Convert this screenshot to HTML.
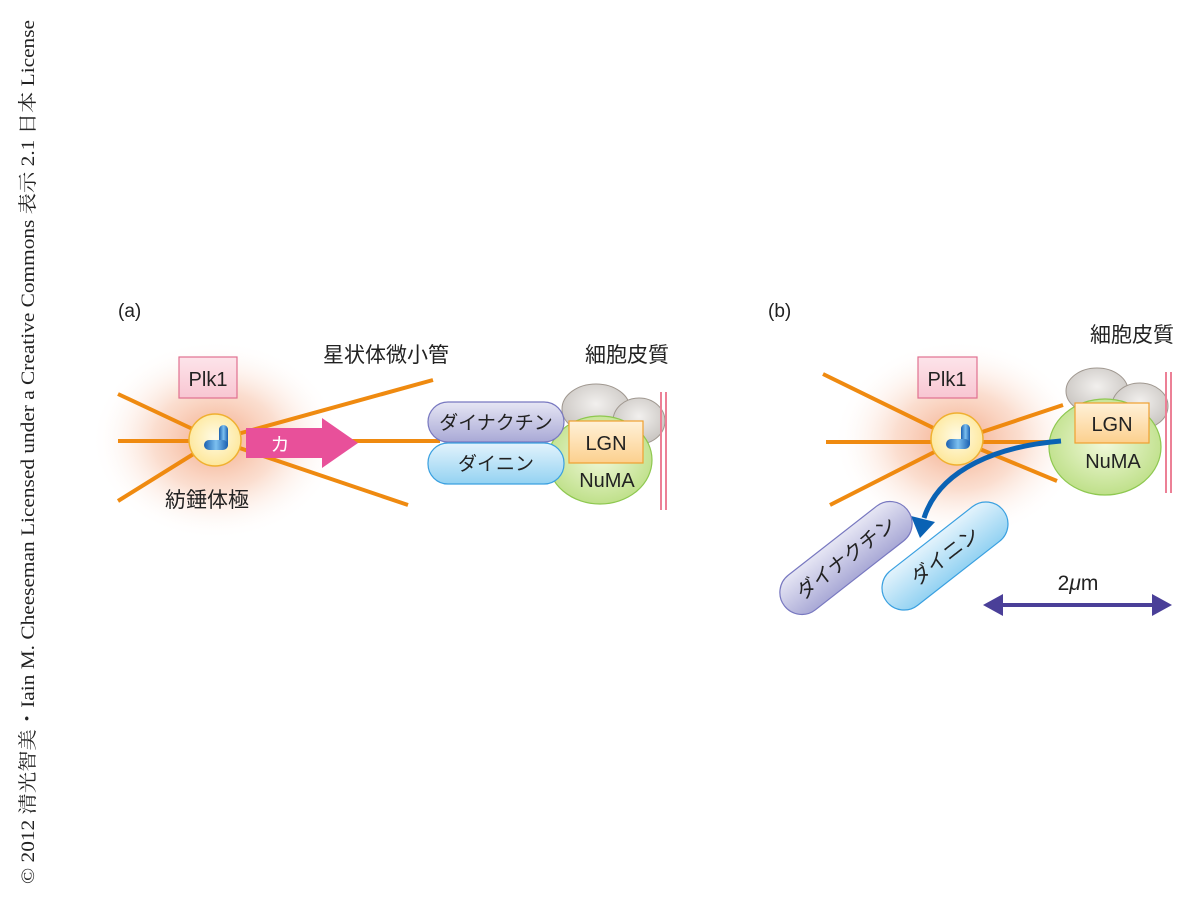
<!DOCTYPE html>
<html><head><meta charset="utf-8"><style>
html,body{margin:0;padding:0;background:#fff;}
svg text{font-family:"Liberation Sans","Noto Sans CJK JP",sans-serif;}
</style></head><body>
<svg width="1200" height="901" viewBox="0 0 1200 901" xmlns="http://www.w3.org/2000/svg">
<defs>
<radialGradient id="glow" cx="50%" cy="50%" r="50%">
<stop offset="0" stop-color="#f08a5a" stop-opacity="0.75"/>
<stop offset="0.5" stop-color="#f6b595" stop-opacity="0.45"/>
<stop offset="1" stop-color="#fff" stop-opacity="0"/>
</radialGradient>
<radialGradient id="pole" cx="50%" cy="45%" r="55%">
<stop offset="0" stop-color="#fffbe6"/><stop offset="1" stop-color="#fde79a"/>
</radialGradient>
<linearGradient id="plk" x1="0" y1="0" x2="0" y2="1"><stop offset="0" stop-color="#fde4ea"/><stop offset="1" stop-color="#f8c6d2"/></linearGradient>
<linearGradient id="dyn" x1="0" y1="0" x2="0" y2="1"><stop offset="0" stop-color="#e6e6f4"/><stop offset="1" stop-color="#a9a9d6"/></linearGradient>
<linearGradient id="dein" x1="0" y1="0" x2="0" y2="1"><stop offset="0" stop-color="#e3f3fc"/><stop offset="1" stop-color="#93d2f2"/></linearGradient>
<linearGradient id="lgn" x1="0" y1="0" x2="0" y2="1"><stop offset="0" stop-color="#fff1d8"/><stop offset="1" stop-color="#fcd08e"/></linearGradient>
<radialGradient id="numa" cx="50%" cy="45%" r="55%"><stop offset="0" stop-color="#f2f9dc"/><stop offset="1" stop-color="#bfe08a"/></radialGradient>
<radialGradient id="grey" cx="50%" cy="40%" r="60%"><stop offset="0" stop-color="#f2f0ee"/><stop offset="1" stop-color="#c8c4c0"/></radialGradient>
<linearGradient id="cen" x1="0" y1="0" x2="1" y2="0"><stop offset="0" stop-color="#1a5fb0"/><stop offset="0.5" stop-color="#7cc0f0"/><stop offset="1" stop-color="#1a5fb0"/></linearGradient>
</defs>

<text transform="translate(34,884) rotate(-90)" font-size="19" fill="#222" textLength="864" lengthAdjust="spacingAndGlyphs" style="font-family:'Liberation Serif','Noto Serif CJK SC',serif">© 2012 清光智美・Iain M. Cheeseman Licensed under a Creative Commons 表示 2.1 日本 License</text>

<!-- (a) -->
<text x="118" y="317" font-size="19" fill="#222">(a)</text>
<ellipse cx="216" cy="440" rx="125" ry="100" fill="url(#glow)"/>
<g stroke="#ef8a10" stroke-width="4" fill="none">
<line x1="118" y1="394" x2="216" y2="440"/>
<line x1="118" y1="441" x2="216" y2="441"/>
<line x1="118" y1="501" x2="216" y2="440"/>
<line x1="216" y1="440" x2="433" y2="380"/>
<line x1="216" y1="440" x2="408" y2="505"/>
<line x1="330" y1="441" x2="440" y2="441"/>
</g>
<rect x="179" y="357" width="58" height="41" fill="url(#plk)" stroke="#e07090" stroke-width="1.2"/>
<text x="208" y="386" font-size="20" text-anchor="middle" fill="#222">Plk1</text>
<circle cx="215" cy="440" r="26" fill="url(#pole)" stroke="#f0b030" stroke-width="1.5"/>
<rect x="219" y="425" width="9" height="24" rx="4.5" fill="url(#cen)"/>
<rect x="204" y="440" width="24" height="10" rx="5" fill="url(#cen)"/>
<polygon points="246,428 322,428 322,418 358,443 322,468 322,458 246,458" fill="#e8509a"/>
<text x="280" y="451" font-size="19" text-anchor="middle" fill="#fff">カ</text>
<text x="323" y="362" font-size="21" fill="#222">星状体微小管</text>
<text x="585" y="362" font-size="21" fill="#222">細胞皮質</text>
<text x="165" y="507" font-size="21" fill="#222">紡錘体極</text>
<ellipse cx="596" cy="409" rx="34" ry="25" fill="url(#grey)" stroke="#a09890"/>
<ellipse cx="639" cy="421" rx="26" ry="23" fill="url(#grey)" stroke="#a09890"/>
<ellipse cx="600" cy="460" rx="52" ry="44" fill="url(#numa)" stroke="#8ec850" stroke-width="1.2"/>
<rect x="428" y="402" width="136" height="40" rx="20" fill="url(#dyn)" stroke="#7878c0" stroke-width="1.2"/>
<text x="496" y="429" font-size="19" text-anchor="middle" fill="#222">ダイナクチン</text>
<rect x="428" y="443" width="136" height="41" rx="20" fill="url(#dein)" stroke="#3aa0e0" stroke-width="1.2"/>
<text x="496" y="470" font-size="19" text-anchor="middle" fill="#222">ダイニン</text>
<rect x="569" y="421" width="74" height="42" fill="url(#lgn)" stroke="#f0a030" stroke-width="1.2"/>
<text x="606" y="450" font-size="20" text-anchor="middle" fill="#222">LGN</text>
<text x="607" y="487" font-size="20" text-anchor="middle" fill="#222">NuMA</text>
<line x1="661" y1="392" x2="661" y2="510" stroke="#ec8096" stroke-width="2"/>
<line x1="666" y1="392" x2="666" y2="510" stroke="#ec8096" stroke-width="2"/>

<!-- (b) -->
<text x="768" y="317" font-size="19" fill="#222">(b)</text>
<text x="1090" y="342" font-size="21" fill="#222">細胞皮質</text>
<ellipse cx="958" cy="440" rx="125" ry="100" fill="url(#glow)"/>
<g stroke="#ef8a10" stroke-width="4" fill="none">
<line x1="823" y1="374" x2="958" y2="440"/>
<line x1="826" y1="442" x2="1062" y2="442"/>
<line x1="830" y1="505" x2="958" y2="440"/>
<line x1="958" y1="440" x2="1063" y2="405"/>
<line x1="958" y1="440" x2="1057" y2="481"/>
</g>
<rect x="918" y="357" width="59" height="41" fill="url(#plk)" stroke="#e07090" stroke-width="1.2"/>
<text x="947" y="386" font-size="20" text-anchor="middle" fill="#222">Plk1</text>
<circle cx="957" cy="439" r="26" fill="url(#pole)" stroke="#f0b030" stroke-width="1.5"/>
<rect x="961" y="424" width="9" height="24" rx="4.5" fill="url(#cen)"/>
<rect x="946" y="439" width="24" height="10" rx="5" fill="url(#cen)"/>
<ellipse cx="1097" cy="391" rx="31" ry="23" fill="url(#grey)" stroke="#a09890"/>
<ellipse cx="1140" cy="406" rx="28" ry="23" fill="url(#grey)" stroke="#a09890"/>
<ellipse cx="1105" cy="447" rx="56" ry="48" fill="url(#numa)" stroke="#8ec850" stroke-width="1.2"/>
<rect x="1075" y="403" width="74" height="40" fill="url(#lgn)" stroke="#f0a030" stroke-width="1.2"/>
<text x="1112" y="431" font-size="20" text-anchor="middle" fill="#222">LGN</text>
<text x="1113" y="468" font-size="20" text-anchor="middle" fill="#222">NuMA</text>
<line x1="1166" y1="372" x2="1166" y2="493" stroke="#ec8096" stroke-width="2"/>
<line x1="1171" y1="372" x2="1171" y2="493" stroke="#ec8096" stroke-width="2"/>
<path d="M1061,441 C1000,446 940,468 924,518" stroke="#0a62b4" stroke-width="5" fill="none"/>
<polygon points="911,516 935,522 920,538" fill="#0a62b4"/>
<g transform="translate(846,558) rotate(-38)">
<rect x="-78" y="-22" width="156" height="44" rx="22" fill="url(#dyn)" stroke="#7878c0" stroke-width="1.2"/>
<text x="0" y="7" font-size="20" text-anchor="middle" fill="#222">ダイナクチン</text>
</g>
<g transform="translate(945,556) rotate(-38)">
<rect x="-74" y="-22" width="148" height="44" rx="22" fill="url(#dein)" stroke="#3aa0e0" stroke-width="1.2"/>
<text x="0" y="7" font-size="20" text-anchor="middle" fill="#222">ダイニン</text>
</g>
<text x="1078" y="590" font-size="21" text-anchor="middle" fill="#222">2<tspan font-style="italic">μ</tspan>m</text>
<line x1="995" y1="605" x2="1160" y2="605" stroke="#4a3f98" stroke-width="4"/>
<polygon points="983,605 1003,594 1003,616" fill="#4a3f98"/>
<polygon points="1172,605 1152,594 1152,616" fill="#4a3f98"/>
</svg>
</body></html>
